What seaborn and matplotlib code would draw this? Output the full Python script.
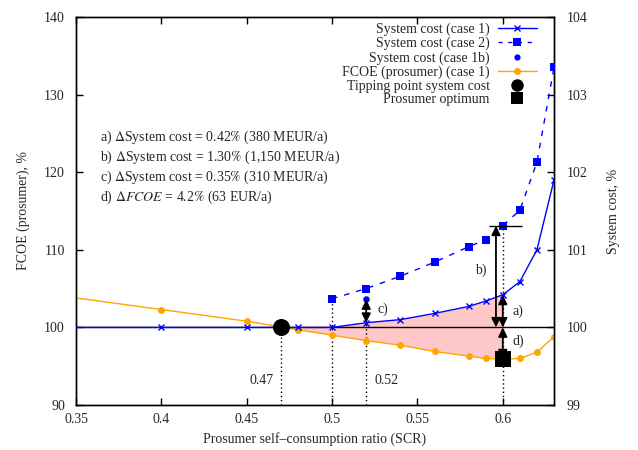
import numpy as np
import pandas as pd
import matplotlib
matplotlib.use("Agg")
import matplotlib.pyplot as plt
from matplotlib.lines import Line2D
import seaborn as sns

# ---------------- data ----------------
scr_c1 = [0.30, 0.40, 0.45, 0.48, 0.50, 0.52, 0.54, 0.56, 0.58, 0.59, 0.60, 0.61, 0.62, 0.63]
sys_c1 = [100.0, 100.0, 100.0, 100.0, 100.0, 100.06, 100.10, 100.18, 100.27, 100.34, 100.42, 100.59, 101.0, 101.9]

scr_c2 = [0.50, 0.52, 0.54, 0.56, 0.58, 0.59, 0.60, 0.61, 0.62, 0.63]
sys_c2 = [100.37, 100.50, 100.66, 100.84, 101.04, 101.13, 101.31, 101.51, 102.13, 103.35]

scr_c1b = [0.52]
sys_c1b = [100.36]

scr_fcoe = [0.30, 0.40, 0.45, 0.48, 0.50, 0.52, 0.54, 0.56, 0.58, 0.59, 0.60, 0.61, 0.62, 0.63]
fcoe = [105.3, 102.3, 100.8, 99.7, 99.0, 98.3, 97.7, 96.9, 96.3, 96.0, 95.9, 96.0, 96.8, 98.8]

tip_x, tip_y = [0.47], [100.0]
opt_x, opt_y = [0.60], [95.9]

annot_lines = [
    r"a) $\Delta$System cost = 0.42$\%$ (380 MEUR/a)",
    r"b) $\Delta$System cost = 1.30$\%$ (1,150 MEUR/a)",
    r"c) $\Delta$System cost = 0.35$\%$ (310 MEUR/a)",
    r"d) $\Delta FCOE$ = 4.2$\%$ (63 EUR/a)",
]
legend_labels = ["System cost (case 1)", "System cost (case 2)", "System cost (case 1b)",
                 "FCOE (prosumer) (case 1)", "Tipping point system cost", "Prosumer optimum"]

xticks = [0.35, 0.4, 0.45, 0.5, 0.55, 0.6]
yticks_left = [90, 100, 110, 120, 130, 140]
yticks_right = [99, 100, 101, 102, 103, 104]

# ---------------- style ----------------
sns.set_theme(style="ticks")
plt.rcParams["font.family"] = ["Liberation Serif", "DejaVu Serif"]
plt.rcParams["mathtext.fontset"] = "stix"
plt.rcParams["font.size"] = 10

BLUE = "#0000ff"
ORANGE = "#ffa500"
PINK = "#ffc8c8"

fig, ax = plt.subplots(figsize=(6.38, 4.5), dpi=100)
fig.subplots_adjust(left=76/638, right=554/638, top=1-17/450, bottom=1-405/450)
ax2 = ax.twinx()

ax.set_xlim(0.35, 0.63)
ax.set_ylim(90, 140)
ax2.set_ylim(99, 104)

def to_left(v):
    # map system-cost axis value to FCOE axis value (both axes share pixel scale)
    lo2, hi2 = ax2.get_ylim()
    lo1, hi1 = ax.get_ylim()
    return lo1 + (np.asarray(v) - lo2) * (hi1 - lo1) / (hi2 - lo2)

# baseline at 100
ax2.axhline(100, color="black", lw=1.0, zorder=1)

# pink area between case 1 system cost and FCOE from tipping point to optimum
fx = np.array([tip_x[0]] + [x for x in scr_c1 if tip_x[0] < x <= opt_x[0]])
sc_interp = np.interp(fx, scr_c1, sys_c1)
fc_interp = np.interp(fx, scr_fcoe, fcoe)
ax.fill_between(fx, to_left(sc_interp), fc_interp, color=PINK, lw=0, zorder=0)

# dotted verticals
d = dict(colors="black", linestyles=(0, (1, 2)), lw=1.0, zorder=1)
ax.vlines(tip_x[0], 90, to_left(tip_y[0]), **d)
ax.vlines(scr_c2[0], 90, to_left(sys_c2[0]), **d)
ax.vlines(scr_c1b[0], 90, to_left(sys_c1b[0]), **d)
i6 = scr_c2.index(0.60)
ax.vlines(0.60, 90, to_left(sys_c2[i6]), **d)

# FCOE line (left axis)
sns.lineplot(x=scr_fcoe, y=fcoe, ax=ax, color=ORANGE, lw=1.0, marker="o", markersize=5,
             markeredgewidth=0, label=legend_labels[3], zorder=3, legend=False)

# System cost lines (right axis)
sns.lineplot(x=scr_c1, y=sys_c1, ax=ax2, color=BLUE, lw=1.0, marker="x", markersize=5,
             markeredgewidth=1.0, markeredgecolor=BLUE, label=legend_labels[0], zorder=3,
             legend=False)
sns.lineplot(x=scr_c2, y=sys_c2, ax=ax2, color=BLUE, lw=1.0, linestyle=(0, (4, 5)), marker="s",
             markersize=5.5, markeredgewidth=0, label=legend_labels[1], zorder=3, legend=False)
sns.scatterplot(x=scr_c1b, y=sys_c1b, ax=ax2, color=BLUE, s=22, linewidth=0, zorder=4,
                legend=False)
sns.scatterplot(x=tip_x, y=tip_y, ax=ax2, color="black", s=150, linewidth=0, zorder=6,
                legend=False)
sns.scatterplot(x=opt_x, y=opt_y, ax=ax, color="black", marker="s", s=130, linewidth=0,
                zorder=6, legend=False)

# arrows
ap = dict(arrowstyle="<|-|>,head_length=0.45,head_width=0.22", color="black", lw=1.3,
          shrinkA=0, shrinkB=0, mutation_scale=12)
i_c1 = scr_c1.index(0.60)
ax2.annotate("", xy=(0.60, sys_c1[i_c1]), xytext=(0.60, 100), arrowprops=ap, zorder=5)
xb = 0.596
ax2.annotate("", xy=(xb, sys_c2[i6]), xytext=(xb, 100), arrowprops=ap, zorder=5)
ax2.hlines(sys_c2[i6], 0.5917, 0.6112, colors="black", lw=1.0, zorder=5)
i_c52 = scr_c1.index(0.52)
ax2.annotate("", xy=(0.52, sys_c1b[0]), xytext=(0.52, sys_c1[i_c52]), arrowprops=ap, zorder=5)
i_f = scr_fcoe.index(0.60)
ax.annotate("", xy=(0.60, fcoe[i_f]), xytext=(0.60, 100), arrowprops=ap, zorder=5)

ax2.text(0.609, 100.21, "a)", ha="center", va="center", fontsize=10, zorder=7)
ax2.text(0.587, 100.73, "b)", ha="center", va="center", fontsize=10, zorder=7)
ax2.text(0.530, 100.23, "c)", ha="center", va="center", fontsize=10, zorder=7)
ax2.text(0.609, 99.82, "d)", ha="center", va="center", fontsize=10, zorder=7)

ax2.text(0.466, 99.32, "0.47", ha="right", va="center", fontsize=10)
ax2.text(0.525, 99.32, "0.52", ha="left", va="center", fontsize=10)

for k, s in enumerate(annot_lines):
    ax2.text(0.05, 0.691 - k * 0.0515, s, transform=ax2.transAxes, ha="left", va="center",
             fontsize=10)

# legend (proxy handles matching the plotted styles)
handles = [
    Line2D([], [], color=BLUE, lw=1.0, marker="x", markersize=5, markeredgewidth=1.0),
    Line2D([], [], color=BLUE, lw=1.0, linestyle=(0, (3, 4)), marker="s", markersize=5.5,
           markeredgewidth=0),
    Line2D([], [], color=BLUE, lw=0, marker="o", markersize=4.5, markeredgewidth=0),
    Line2D([], [], color=ORANGE, lw=1.0, marker="o", markersize=5, markeredgewidth=0),
    Line2D([], [], color="black", lw=0, marker="o", markersize=9, markeredgewidth=0),
    Line2D([], [], color="black", lw=0, marker="s", markersize=8.5, markeredgewidth=0),
]
leg = ax2.legend(handles, legend_labels, loc="upper right",
                 bbox_to_anchor=(0.964, 0.985), frameon=False, markerfirst=False,
                 borderaxespad=0, borderpad=0, labelspacing=0.05, handlelength=2.8,
                 handletextpad=0.6, fontsize=10)

# ticks & labels
ax.set_xticks(xticks)
ax.set_xticklabels([f"{t:g}" for t in xticks])
ax.set_yticks(yticks_left)
ax2.set_yticks(yticks_right)
ax.tick_params(axis="both", direction="in", length=5, width=1, color="black", labelsize=10,
               top=True, right=False)
ax.tick_params(axis="y", pad=8)
ax.tick_params(axis="x", pad=6)
ax2.tick_params(axis="y", direction="in", length=5, width=1, color="black", labelsize=10, pad=9)
ax.set_xlabel("Prosumer self\u2013consumption ratio (SCR)", fontsize=10, labelpad=4)
ax.set_ylabel("FCOE (prosumer), %", fontsize=10, labelpad=10)
ax2.set_ylabel("System cost, %", fontsize=10, labelpad=14)
for a in (ax, ax2):
    for sp in a.spines.values():
        sp.set_color("black")
        sp.set_linewidth(1.0)

fig.savefig("out.png", dpi=100)
